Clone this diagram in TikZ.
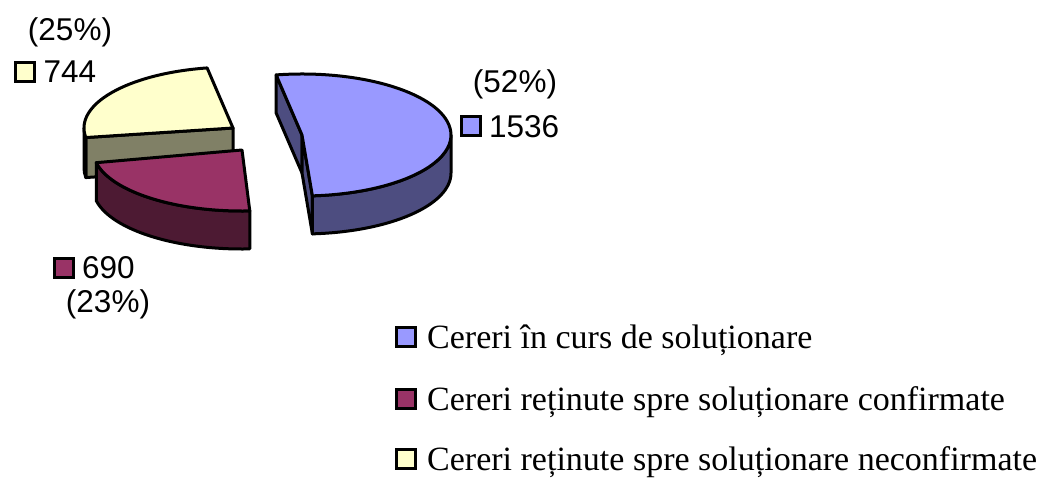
\documentclass[tikz,border=0pt]{standalone}
\usepackage{fontspec}
\setmainfont{Liberation Serif}
\newfontfamily\arialf{Liberation Sans}
\usetikzlibrary{calc}
\definecolor{bluetop}{HTML}{9999FF}
\definecolor{blueside}{HTML}{4D4D80}
\definecolor{martop}{HTML}{993366}
\definecolor{marside}{HTML}{4D1A33}
\definecolor{yeltop}{HTML}{FFFFCC}
\definecolor{yelside}{HTML}{808066}
\begin{document}
\begin{tikzpicture}[x=1pt,y=-1pt,
  face/.style={draw=black,line width=3pt,line join=round},
  ell/.style={x radius=149,y radius=61},
  lbl/.style={font=\arialf\fontsize{31.5}{36}\selectfont,inner sep=0pt},
  leg/.style={font=\fontsize{34}{40}\selectfont,inner sep=0pt,anchor=base west},
  swatch/.style={draw=black,line width=3pt,minimum size=19pt,inner sep=0pt}]
\useasboundingbox (0,0) rectangle (1046,479);

% ---------- yellow slice (25%) ----------
\coordinate (yc) at (233,128);
\coordinate (yA) at ({233+149*cos(171)},{128+61*sin(171)});
\coordinate (yB) at ({233+149*cos(260)},{128+61*sin(260)});
\draw[face,fill=yelside] (yc) -- (yA) -- ++(0,40) -- (233,168) -- cycle;
\draw[face,fill=yelside] (yA) arc[start angle=171,end angle=180,ell] -- ++(0,40)
  arc[start angle=180,end angle=171,ell] -- cycle;
\draw[face,fill=yeltop] (yc) -- (yB) arc[start angle=260,end angle=171,ell] -- cycle;

% ---------- maroon slice (23%) ----------
\coordinate (mc) at (242,150);
\coordinate (mA) at ({242+149*cos(87)},{150+61*sin(87)});
\coordinate (mB) at ({242+149*cos(168)},{150+61*sin(168)});
\draw[face,fill=marside] (mA) -- ++(0,38) arc[start angle=87,end angle=168,ell]
  -- (mB) arc[start angle=168,end angle=87,ell] -- cycle;
\draw[face,fill=martop] (mc) -- (mA) arc[start angle=87,end angle=168,ell] -- cycle;

% ---------- blue slice (52%) ----------
\coordinate (bc) at (302,135);
\coordinate (bA) at ({302+149*cos(260)},{135+61*sin(260)});
\coordinate (bB) at ({302+149*cos(86)},{135+61*sin(86)});
\coordinate (bR) at (451,135);
\draw[face,fill=blueside] (bc) -- (bA) -- ++(0,38) -- (302,173) -- cycle;
\draw[face,fill=blueside] (bc) -- (bB) -- ++(0,38) -- (302,173) -- cycle;
\draw[face,fill=blueside] (bR) -- ++(0,38) arc[start angle=0,end angle=86,ell]
  -- (bB) arc[start angle=86,end angle=0,ell] -- cycle;
\draw[face,fill=bluetop] (bc) -- (bA) arc[start angle=260,end angle=446,ell] -- cycle;

% ---------- data labels ----------
\node[lbl,anchor=base] (p25) at (70,40) {(25\%)};
\node[swatch,fill=yeltop] (s744) at (25,71.5) {};
\node[lbl,anchor=base west] (v744) at (43.5,82) {744};

\node[lbl,anchor=base] (p52) at (515,92) {(52\%)};
\node[swatch,fill=bluetop] (s1536) at (471,126) {};
\node[lbl,anchor=base west] (v1536) at (489,137) {1536};

\node[swatch,fill=martop] (s690) at (64,267.5) {};
\node[lbl,anchor=base west] (v690) at (82,278) {690};
\node[lbl,anchor=base] (p23) at (108,312) {(23\%)};

% ---------- legend ----------
\node[swatch,fill=bluetop] (l1) at (406,336.5) {};
\node[leg] (t1) at (427,348) {Cereri în curs de soluționare};
\node[swatch,fill=martop] (l2) at (406,398.5) {};
\node[leg] (t2) at (427,410) {Cereri reținute spre soluționare confirmate};
\node[swatch,fill=yeltop] (l3) at (406,458.5) {};
\node[leg] (t3) at (427,470) {Cereri reținute spre soluționare neconfirmate};
\end{tikzpicture}
\end{document}
